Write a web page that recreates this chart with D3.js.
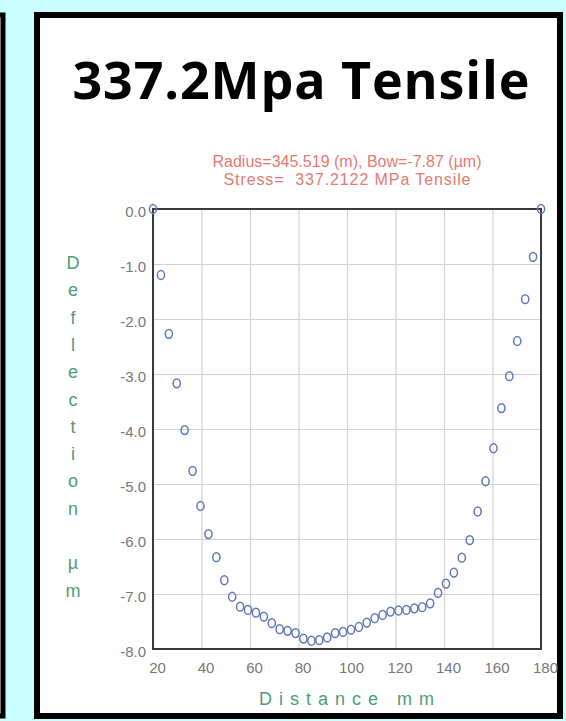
<!DOCTYPE html>
<html>
<head>
<meta charset="utf-8">
<script src="https://cdn.jsdelivr.net/npm/d3@7"></script>
<style>
  html, body { margin: 0; padding: 0; background: #c8fefe; }
  svg { display: block; }
</style>
</head>
<body>
<div class="chart"></div>
<script>
var svgWidth = 566;
var svgHeight = 721;

// Chart text
var titleText = "337.2Mpa Tensile";
var subtitleLines = ["Radius=345.519 (m), Bow=-7.87 (\u00b5m)", "Stress=  337.2122 MPa Tensile"];
var yTitle = ["D", "e", "f", "l", "e", "c", "t", "i", "o", "n", "", "\u00b5", "m"];
var xTitle = "Distance mm";

// Tick labels
var xTicks = [20, 40, 60, 80, 100, 120, 140, 160, 180];
var yTicks = [0, -1, -2, -3, -4, -5, -6, -7, -8];

// Measured points (distance mm, deflection um)
var distance = [20.00, 23.27, 26.53, 29.80, 33.06, 36.33, 39.59, 42.86, 46.12, 49.39,
  52.65, 55.92, 59.18, 62.45, 65.71, 68.98, 72.24, 75.51, 78.78, 82.04,
  85.31, 88.57, 91.84, 95.10, 98.37, 101.63, 104.90, 108.16, 111.43, 114.69,
  117.96, 121.22, 124.49, 127.76, 131.02, 134.29, 137.55, 140.82, 144.08, 147.35,
  150.61, 153.88, 157.14, 160.41, 163.67, 166.94, 170.20, 173.47, 176.73, 180.00];
var deflection = [0.00, -1.20, -2.27, -3.17, -4.02, -4.76, -5.40, -5.91, -6.33, -6.75,
  -7.05, -7.23, -7.29, -7.34, -7.41, -7.53, -7.64, -7.67, -7.71, -7.81,
  -7.85, -7.84, -7.79, -7.71, -7.69, -7.65, -7.60, -7.52, -7.44, -7.38,
  -7.32, -7.30, -7.29, -7.26, -7.24, -7.17, -6.98, -6.81, -6.61, -6.34,
  -6.02, -5.50, -4.95, -4.35, -3.62, -3.04, -2.40, -1.64, -0.87, 0.00];

var margin = { top: 209, left: 153, right: 25, bottom: 72 };
var width = svgWidth - margin.left - margin.right;
var height = svgHeight - margin.top - margin.bottom;

var svg = d3.select(".chart")
  .append("svg")
  .attr("width", svgWidth)
  .attr("height", svgHeight);

// Panels
svg.append("rect")
  .attr("x", -30).attr("y", 15)
  .attr("width", 33).attr("height", 701)
  .attr("fill", "#ffffff")
  .attr("stroke", "#000").attr("stroke-width", 5);

svg.append("rect")
  .attr("x", 37).attr("y", 15)
  .attr("width", 523).attr("height", 701)
  .attr("fill", "#ffffff")
  .attr("stroke", "#000").attr("stroke-width", 6);

// Title
svg.append("text")
  .attr("x", 301).attr("y", 99)
  .attr("text-anchor", "middle")
  .attr("textLength", 457)
  .style("font-family", "'Open Sans', sans-serif")
  .style("font-weight", "bold")
  .style("font-size", "52px")
  .attr("fill", "#000")
  .text(titleText);

var subWidths = [269, 247];
svg.selectAll(".subtitle")
  .data(subtitleLines)
  .enter()
  .append("text")
  .attr("class", "subtitle")
  .attr("x", 347)
  .attr("y", (d, i) => 167 + i * 18)
  .attr("text-anchor", "middle")
  .attr("textLength", (d, i) => subWidths[i])
  .style("white-space", "pre")
  .style("font-family", "'Liberation Sans', Arial, sans-serif")
  .style("font-size", "16px")
  .attr("fill", "#e37a72")
  .text(d => d);

var chartGroup = svg.append("g")
  .attr("transform", `translate(${margin.left}, ${margin.top})`);

var xScale = d3.scaleLinear().domain([20, 180]).range([0, width]);
var yScale = d3.scaleLinear().domain([-8, 0]).range([height, 0]);

// Gridlines
chartGroup.append("g")
  .call(d3.axisBottom(xScale).tickValues(xTicks).tickSize(height).tickFormat(""))
  .call(g => g.select(".domain").remove())
  .call(g => g.selectAll("line").attr("stroke", "#d2d2d2").attr("stroke-width", 1.2));

chartGroup.append("g")
  .call(d3.axisLeft(yScale).tickValues(yTicks).tickSize(-width).tickFormat(""))
  .call(g => g.select(".domain").remove())
  .call(g => g.selectAll("line").attr("stroke", "#d2d2d2").attr("stroke-width", 1.2));

// Tick labels
var xAxis = chartGroup.append("g")
  .attr("transform", `translate(0, ${height})`)
  .call(d3.axisBottom(xScale).tickValues(xTicks).tickSize(0).tickPadding(13).tickFormat(d3.format("d")));
xAxis.select(".domain").remove();
xAxis.selectAll("text")
  .attr("dx", 4)
  .style("font-family", "'Liberation Sans', Arial, sans-serif")
  .style("font-size", "15px")
  .attr("fill", "#777777");

var yAxis = chartGroup.append("g")
  .call(d3.axisLeft(yScale).tickValues(yTicks).tickSize(0).tickPadding(7).tickFormat(d => d.toFixed(1)));
yAxis.select(".domain").remove();
yAxis.selectAll("text")
  .attr("dy", "0.5em")
  .style("font-family", "'Liberation Sans', Arial, sans-serif")
  .style("font-size", "15px")
  .attr("fill", "#777777");

// Frame
chartGroup.append("rect")
  .attr("width", width).attr("height", height)
  .attr("fill", "none")
  .attr("stroke", "#3a3a3a").attr("stroke-width", 2);

// Points
chartGroup.selectAll(".pt")
  .data(distance)
  .enter()
  .append("ellipse")
  .attr("class", "pt")
  .attr("cx", d => xScale(d))
  .attr("cy", (d, i) => yScale(deflection[i]))
  .attr("rx", 3.6).attr("ry", 4.4)
  .attr("fill", "none")
  .attr("stroke", "#6079b5")
  .attr("stroke-width", 1.5);

// Axis titles
svg.selectAll(".ytitle")
  .data(yTitle)
  .enter()
  .append("text")
  .attr("class", "ytitle")
  .attr("x", 73)
  .attr("y", (d, i) => 269 + i * 27.3)
  .attr("text-anchor", "middle")
  .style("font-family", "'Liberation Sans', Arial, sans-serif")
  .style("font-size", "18px")
  .attr("fill", "#4e9c78")
  .text(d => d);

svg.append("text")
  .attr("x", 350).attr("y", 705)
  .attr("text-anchor", "middle")
  .style("font-family", "'Liberation Sans', Arial, sans-serif")
  .style("font-size", "18px")
  .style("letter-spacing", "7px")
  .attr("fill", "#4e9c78")
  .text(xTitle);
</script>
</body>
</html>
